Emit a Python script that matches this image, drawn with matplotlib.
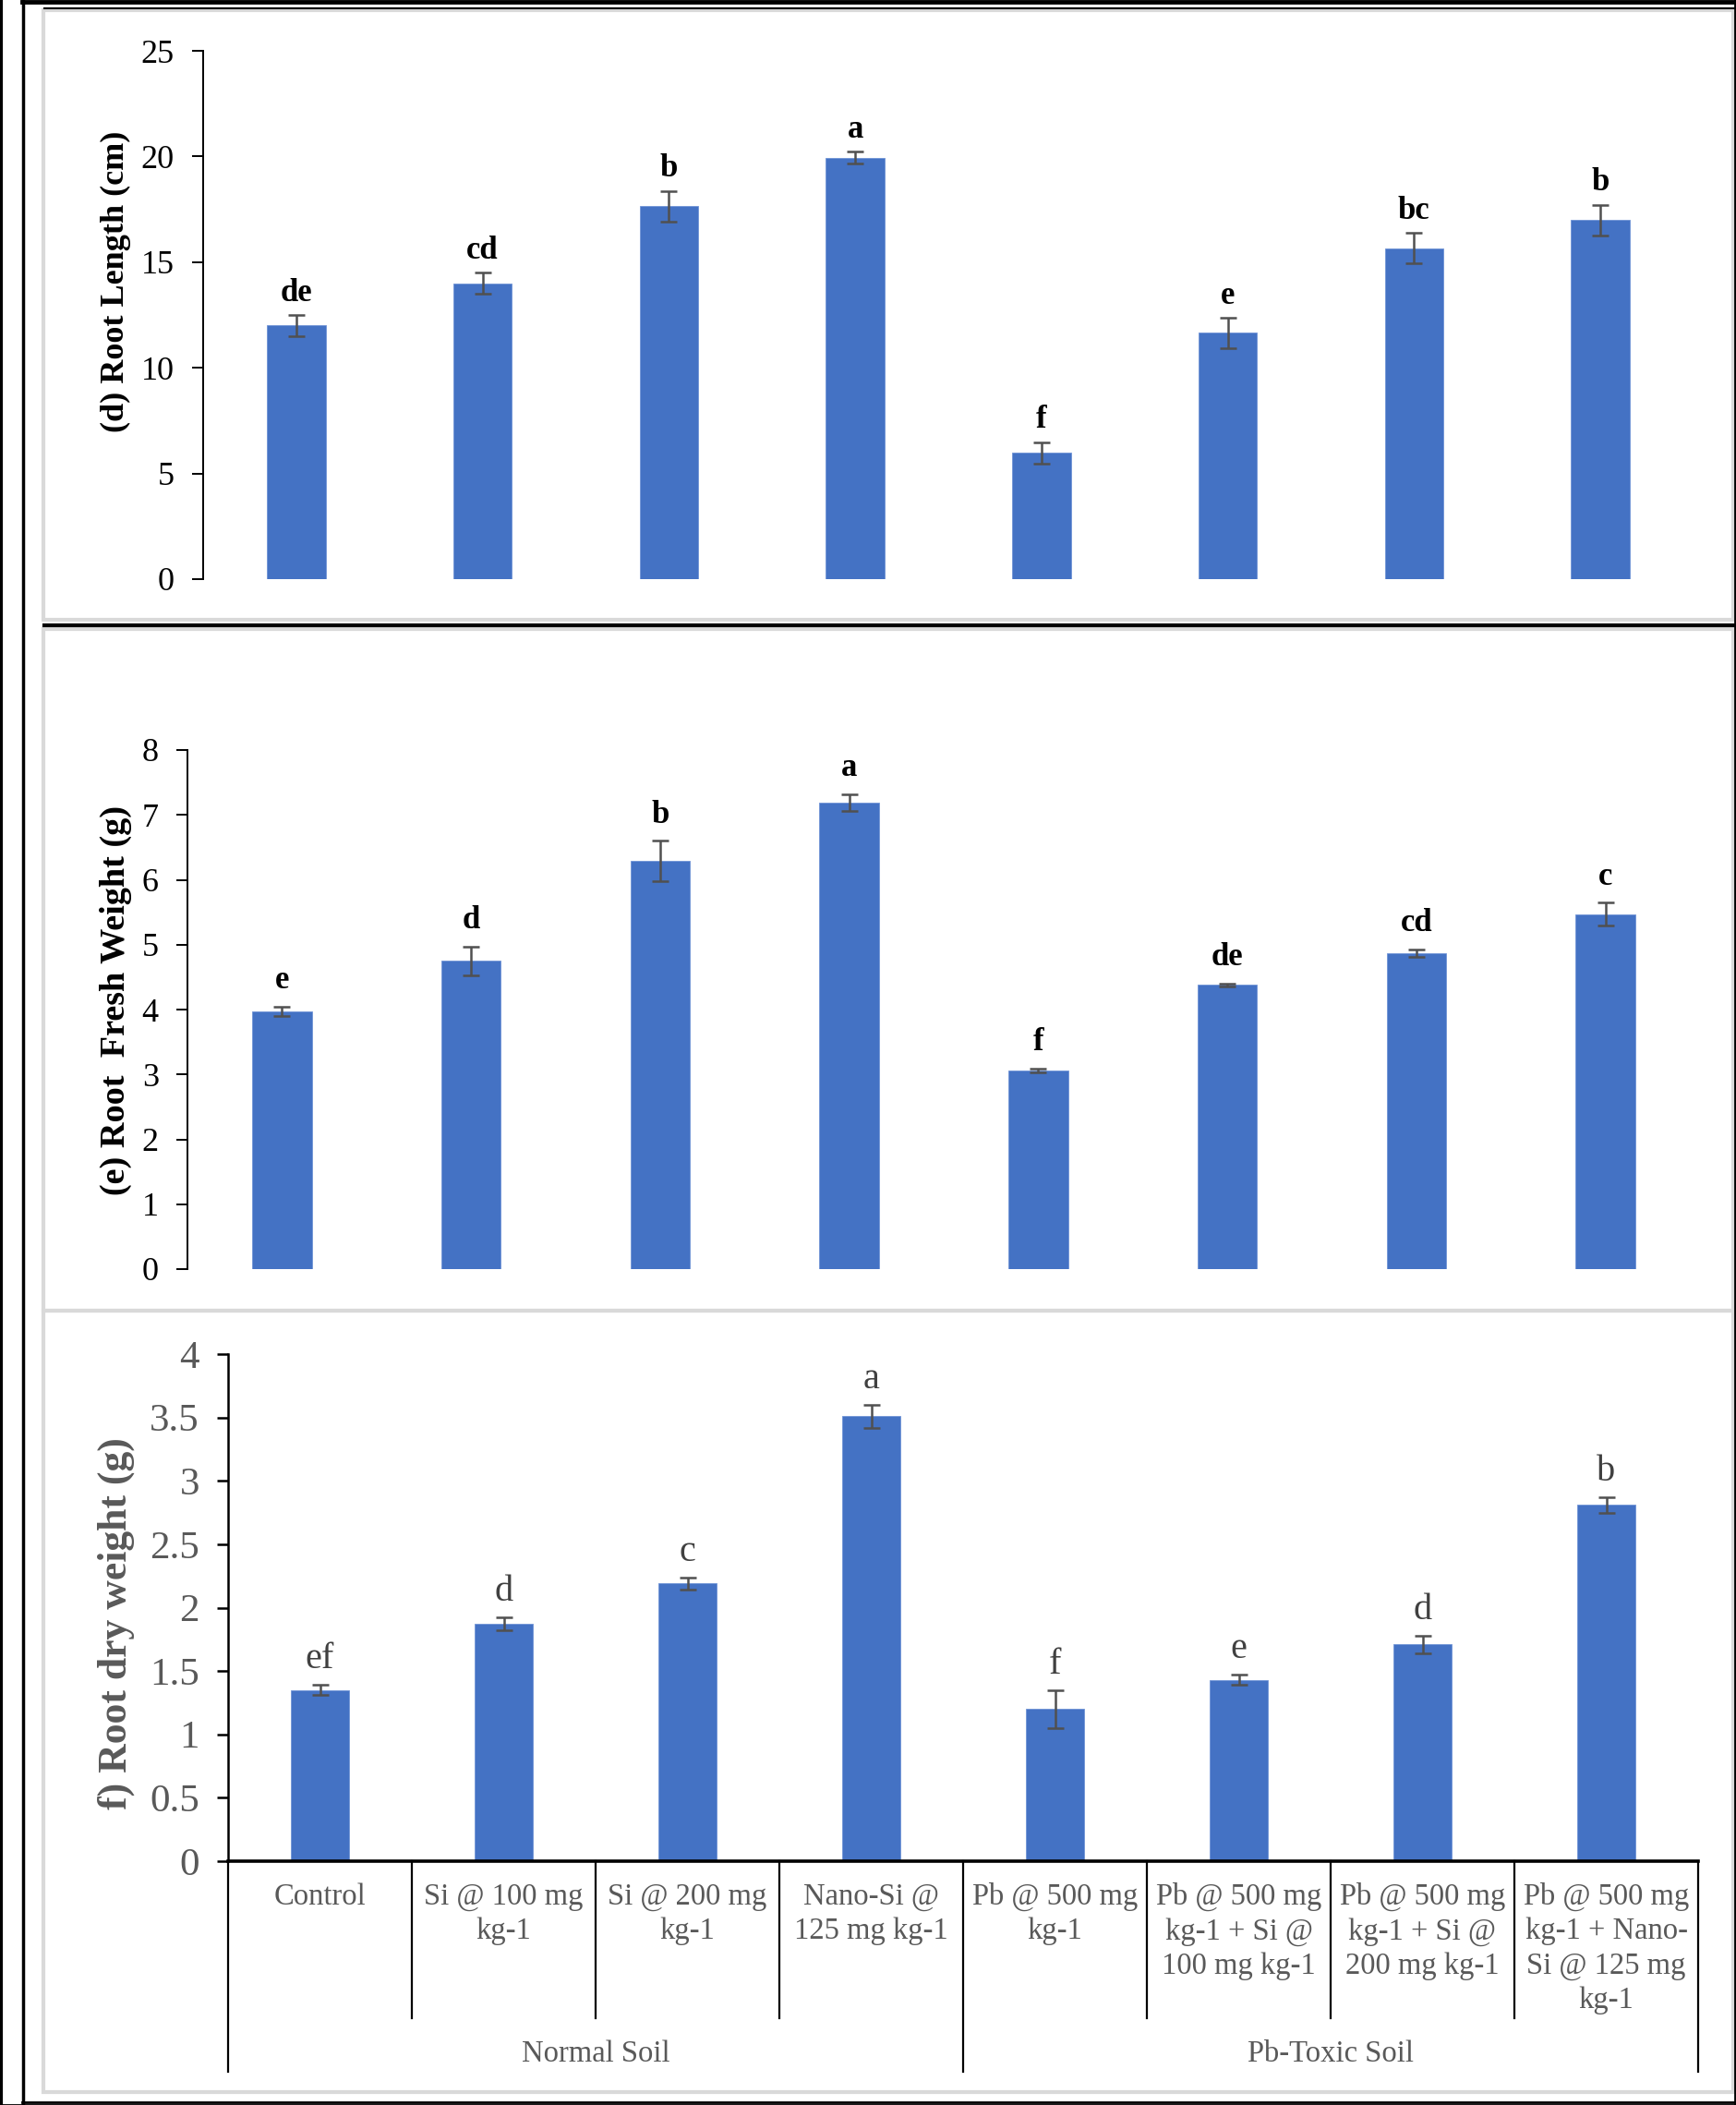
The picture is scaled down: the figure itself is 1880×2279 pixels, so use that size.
import matplotlib
matplotlib.use("Agg")
import matplotlib.pyplot as plt
from matplotlib.lines import Line2D
from matplotlib.patches import Rectangle

W, H = 1880, 2279
plt.rcParams['font.family'] = ['Liberation Serif', 'DejaVu Serif']

# ---------- data ----------
treatments = ["Control", "Si @ 100 mg\nkg-1", "Si @ 200 mg\nkg-1", "Nano-Si @\n125 mg kg-1",
              "Pb @ 500 mg\nkg-1", "Pb @ 500 mg\nkg-1 + Si @\n100 mg kg-1",
              "Pb @ 500 mg\nkg-1 + Si @\n200 mg kg-1", "Pb @ 500 mg\nkg-1 + Nano-\nSi @ 125 mg\nkg-1"]
soil_groups = ["Normal Soil", "Pb-Toxic Soil"]

root_length = [12.0, 14.0, 17.65, 19.95, 5.98, 11.65, 15.65, 17.0]
root_length_err = [0.5, 0.5, 0.72, 0.28, 0.5, 0.72, 0.72, 0.72]
root_length_letters = ["de", "cd", "b", "a", "f", "e", "bc", "b"]

fresh_weight = [3.97, 4.75, 6.29, 7.19, 3.06, 4.38, 4.87, 5.47]
fresh_weight_err = [0.075, 0.22, 0.31, 0.13, 0.03, 0.02, 0.06, 0.18]
fresh_weight_letters = ["e", "d", "b", "a", "f", "de", "cd", "c"]

dry_weight = [1.35, 1.87, 2.19, 3.51, 1.20, 1.43, 1.71, 2.81]
dry_weight_err = [0.04, 0.05, 0.05, 0.09, 0.15, 0.04, 0.07, 0.06]
dry_weight_letters = ["ef", "d", "c", "a", "f", "e", "d", "b"]

BLUE = "#4472C4"
GREY = "#595959"
ERR = "#505050"


def box(x0, y0, x1, y1):
    # pixel box (top-left origin) -> figure fraction rect
    return [x0 / W, 1 - y1 / H, (x1 - x0) / W, (y1 - y0) / H]


def hline(fig, y, x0, x1, color, lw):
    fig.add_artist(Line2D([x0 / W, x1 / W], [1 - y / H, 1 - y / H], color=color, lw=lw,
                          transform=fig.transFigure))


def vline(fig, x, y0, y1, color, lw):
    fig.add_artist(Line2D([x / W, x / W], [1 - y0 / H, 1 - y1 / H], color=color, lw=lw,
                          transform=fig.transFigure))


fig = plt.figure(figsize=(W / 100, H / 100), dpi=100)

# ---------- frames ----------
for (y0, y1) in [(11, 671), (681, 1419), (1419, 2265)]:
    fig.add_artist(Rectangle((47 / W, 1 - y1 / H), (1877 - 47) / W, (y1 - y0) / H,
                             fill=False, edgecolor="#d9d9d9", lw=3, transform=fig.transFigure))
vline(fig, 1, 0, H, "black", 3)
vline(fig, 25, 0, 2277, "black", 2.5)
vline(fig, 1879, 0, H, "black", 2)
hline(fig, 2, 24, W, "black", 3.5)
hline(fig, 8.5, 48, W, "black", 1.5)
hline(fig, 677, 48, W, "black", 3)
hline(fig, 2275.5, 24, W, "black", 2)
hline(fig, 2278.5, 0, W, "black", 2)

x = list(range(len(treatments)))


def panel(rect, values, errs, letters, ylim, step, ylabel, label_xy, tick_size, letter_size,
          label_size, text_color, bold_letters, letter_offset, spine_lw):
    ax = fig.add_axes(box(*rect))
    ax.bar(x, values, width=0.315, color=BLUE, edgecolor="#6f93d6", linewidth=0.6, zorder=2)
    ax.errorbar(x, values, yerr=errs, fmt="none", ecolor=ERR, elinewidth=1.8,
                capsize=6.5, capthick=1.8, zorder=3)
    for xi, v, e, t in zip(x, values, errs, letters):
        ax.annotate(t, (xi, v + e), xytext=(0, letter_offset), textcoords="offset points",
                    ha="center", va="baseline", fontsize=letter_size,
                    fontweight="bold" if bold_letters else "normal",
                    color="black" if bold_letters else "#404040")
    ax.set_xlim(-0.5, len(x) - 0.5)
    ax.set_ylim(0, ylim)
    ticks = [i * step for i in range(int(round(ylim / step)) + 1)]
    ax.set_yticks(ticks)
    ax.set_yticklabels([f"{t:g}" for t in ticks])
    ax.tick_params(axis="y", direction="out", length=8.5, width=spine_lw, pad=14,
                   labelsize=tick_size, labelcolor=text_color, color="black")
    ax.set_xticks([])
    for s in ["top", "right", "bottom"]:
        ax.spines[s].set_visible(False)
    ax.spines["left"].set_linewidth(spine_lw)
    ax.patch.set_alpha(0)
    fig.text(label_xy[0] / W, 1 - label_xy[1] / H, ylabel, rotation=90, ha="center",
             va="center", fontsize=label_size, fontweight="bold", color=text_color)
    return ax


panel((220, 55, 1834, 627), root_length, root_length_err, root_length_letters, 25, 5,
      "(d) Root Length (cm)", (125, 305), 26, 25, 26, "black", True, 11, 1.4)
panel((203, 812, 1841, 1374), fresh_weight, fresh_weight_err, fresh_weight_letters, 8, 1,
      "(e) Root  Fresh Weight (g)", (125, 1083), 26, 25, 27.5, "black", True, 14, 1.4)
ax3 = panel((247, 1466, 1839, 2015), dry_weight, dry_weight_err, dry_weight_letters, 4, 0.5,
            "f) Root dry weight (g)", (126, 1758), 31, 29, 31.5, GREY, False, 13, 1.8)

# category axis of the last panel
ax3.spines["bottom"].set_visible(True)
ax3.spines["bottom"].set_linewidth(2.6)
trans = ax3.get_xaxis_transform()
for b in [0.5, 1.5, 2.5, 4.5, 5.5, 6.5]:
    ax3.plot([b, b], [0, -0.31], color="black", lw=1.6, transform=trans, clip_on=False)
for b in [-0.5, 3.5, 7.5]:
    ax3.plot([b, b], [0, -0.416], color="black", lw=1.6, transform=trans, clip_on=False)
for xi, t in zip(x, treatments):
    ax3.text(xi, -0.042, t, transform=trans, ha="center", va="top", fontsize=23.5,
             color=GREY, linespacing=1.28)
for gi, g in enumerate(soil_groups):
    ax3.text(1.5 + 4 * gi, -0.38, g, transform=trans, ha="center", va="center",
             fontsize=23.5, color=GREY)

fig.savefig("out.png", dpi=100)
